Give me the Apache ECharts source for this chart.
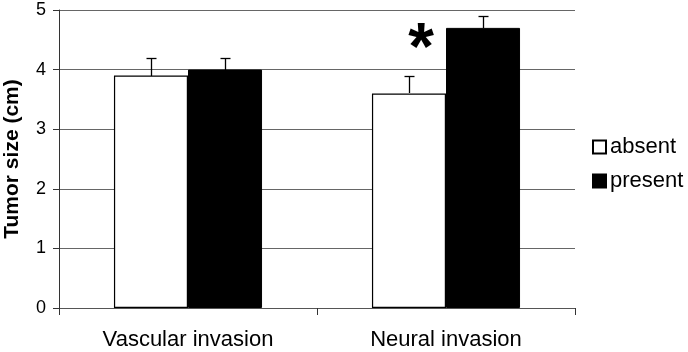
<!DOCTYPE html>
<html>
<head>
<meta charset="utf-8">
<script src="https://cdn.jsdelivr.net/npm/echarts@6/dist/echarts.min.js"></script>
<style>html,body{margin:0;padding:0;background:#fff;}#c{width:688px;height:352px;}</style>
</head>
<body>
<div id="c"></div>
<script>
var categories = ['Vascular invasion', 'Neural invasion'];
var seriesNames = ['absent', 'present'];
var absentMean = [3.9, 3.6];
var absentUpper = [4.2, 3.9];
var presentMean = [4.0, 4.7];
var presentUpper = [4.2, 4.9];
var yTicks = [0, 1, 2, 3, 4, 5];
var starCategory = 'Neural invasion';
var starValue = 4.55;

var GAP = 0.426;
var FONT = '"Liberation Sans", Arial, sans-serif';

function errItem(sign) {
  return function (params, api) {
    var band = api.size([1, 0])[0];
    var barW = band * (1 - GAP) / 2;
    var top = api.coord([api.value(0), api.value(2)]);
    var base = api.coord([api.value(0), api.value(1)]);
    var x = Math.round(top[0] + sign * barW / 2) + 0.5;
    var yt = Math.round(top[1]) + 0.5;
    var yb = Math.round(base[1]);
    var style = { stroke: '#000', lineWidth: 1.3, fill: null };
    return {
      type: 'group',
      children: [
        { type: 'line', shape: { x1: x, y1: yb, x2: x, y2: yt }, style: style },
        { type: 'line', shape: { x1: x - 5, y1: yt, x2: x + 5, y2: yt }, style: style }
      ]
    };
  };
}

function errData(means, uppers) {
  return categories.map(function (c, i) { return [i, means[i], uppers[i]]; });
}

var chart = echarts.init(document.getElementById('c'), null, { renderer: 'canvas' });
chart.setOption({
  backgroundColor: '#fff',
  animation: false,
  textStyle: { fontFamily: FONT },
  grid: { left: 59, right: 113, top: 10, bottom: 44, containLabel: false, outerBoundsMode: 'none' },
  legend: {
    data: seriesNames,
    orient: 'vertical',
    left: 592,
    top: 136,
    padding: 0,
    itemWidth: 13,
    itemHeight: 13,
    itemGap: 12,
    icon: 'rect',
    textStyle: { fontSize: 22, color: '#000', fontFamily: FONT, padding: [0, 0, 0, -1] }
  },
  xAxis: {
    type: 'category',
    data: categories,
    axisLine: { lineStyle: { color: '#555', width: 1 } },
    axisTick: { show: true, length: 7, lineStyle: { color: '#333' } },
    axisLabel: { fontSize: 22, color: '#000', margin: 21, fontFamily: FONT },
    splitLine: { show: false }
  },
  yAxis: {
    type: 'value',
    min: 0,
    max: 5,
    interval: 1,
    name: 'Tumor size (cm)',
    nameLocation: 'middle',
    nameGap: 36,
    nameTextStyle: { fontSize: 21, fontWeight: 'bold', color: '#000', fontFamily: FONT },
    axisLine: { show: true, lineStyle: { color: '#333', width: 1 } },
    axisTick: { show: true, length: 6, lineStyle: { color: '#333' } },
    axisLabel: { fontSize: 18, color: '#000', margin: 13, fontFamily: FONT,
      formatter: function (v) { return yTicks.indexOf(v) >= 0 ? String(v) : ''; } },
    splitLine: { show: true, lineStyle: { color: '#666', width: 1 } }
  },
  series: [
    {
      name: 'absent', type: 'bar', data: absentMean,
      barGap: '0%', barCategoryGap: (GAP * 100) + '%',
      itemStyle: { color: '#fff', borderColor: '#000', borderWidth: 1.2 },
      z: 3
    },
    {
      name: 'present', type: 'bar', data: presentMean,
      barGap: '0%', barCategoryGap: (GAP * 100) + '%',
      itemStyle: { color: '#000', borderColor: '#000', borderWidth: 1 },
      z: 3
    },
    {
      name: 'absent-err', type: 'custom', renderItem: errItem(-1),
      data: errData(absentMean, absentUpper), encode: { x: 0, y: [1, 2] }, z: 4
    },
    {
      name: 'present-err', type: 'custom', renderItem: errItem(1),
      data: errData(presentMean, presentUpper), encode: { x: 0, y: [1, 2] }, z: 4
    }
  ]
});

var p = chart.convertToPixel({ gridIndex: 0 }, [starCategory, starValue]);
chart.setOption({
  graphic: [{
    type: 'text',
    x: p[0] - 25,
    y: p[1] + 14,
    style: {
      text: '*',
      fontSize: 66,
      fontWeight: 'bold',
      fontFamily: FONT,
      fill: '#000',
      align: 'center',
      verticalAlign: 'middle'
    }
  }]
});
</script>
</body>
</html>
